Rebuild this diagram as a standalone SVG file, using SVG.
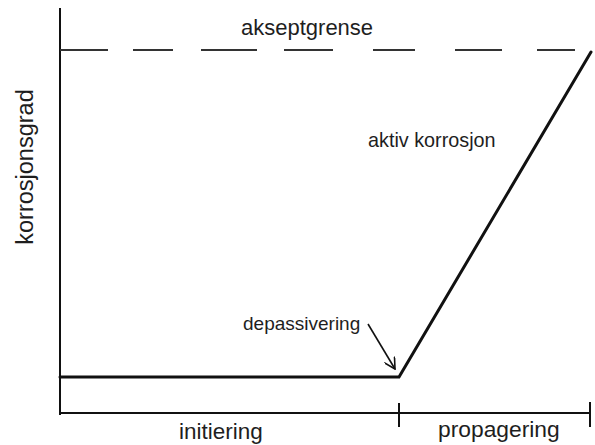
<svg xmlns="http://www.w3.org/2000/svg" width="595" height="445" viewBox="0 0 595 445">
  <style>
    text { font-family: "Liberation Sans", Arial, sans-serif; fill: #1e1e1e; }
    .axis { stroke: #111; stroke-width: 2; fill: none; }
    .curve { stroke: #111; stroke-width: 3; fill: none; stroke-linecap: round; }
    .dash { stroke: #333; stroke-width: 1.8; fill: none; }
    .arrow { stroke: #111; stroke-width: 1.6; fill: none; }
  </style>
  <defs>
    <marker id="openArrow" viewBox="0 0 12 12" refX="11" refY="6" markerWidth="12" markerHeight="12" markerUnits="userSpaceOnUse" orient="auto">
      <polyline points="0,0 11,6 0,12" fill="none" stroke="#111" stroke-width="1.6"/>
    </marker>
  </defs>
  <rect width="595" height="445" fill="#fff"/>
  <g id="connectors">
    <line class="axis" x1="60" y1="8" x2="60" y2="415"/>
    <line class="axis" x1="60" y1="413" x2="590" y2="413"/>
    <line class="axis" x1="399" y1="403" x2="399" y2="427"/>
    <line class="axis" x1="590" y1="402" x2="590" y2="427"/>
    <g id="akseptgrense-line">
      <line class="dash" x1="60" y1="50" x2="108" y2="50"/>
      <line class="dash" x1="133" y1="50" x2="173" y2="50"/>
      <line class="dash" x1="201" y1="50" x2="257" y2="50"/>
      <line class="dash" x1="284" y1="50" x2="333" y2="50"/>
      <line class="dash" x1="373" y1="50" x2="415" y2="50"/>
      <line class="dash" x1="455" y1="50" x2="502" y2="50"/>
      <line class="dash" x1="537" y1="50" x2="575" y2="50"/>
    </g>
    <polyline class="curve" points="60,377 399,377 591,52"/>
    <line class="arrow" x1="368" y1="324" x2="395" y2="369" marker-end="url(#openArrow)"/>
  </g>
  <g id="label-akseptgrense"><text x="241" y="35" font-size="22">akseptgrense</text></g>
  <g id="label-aktiv"><text x="368" y="147" font-size="19.8">aktiv korrosjon</text></g>
  <g id="label-depassivering"><text x="243" y="330" font-size="19">depassivering</text></g>
  <g id="label-initiering"><text x="179" y="439" font-size="22.5">initiering</text></g>
  <g id="label-propagering"><text x="438" y="437" font-size="22.8">propagering</text></g>
  <g id="label-y"><text transform="translate(33,167) rotate(-90)" text-anchor="middle" font-size="23.5">korrosjonsgrad</text></g>
</svg>
